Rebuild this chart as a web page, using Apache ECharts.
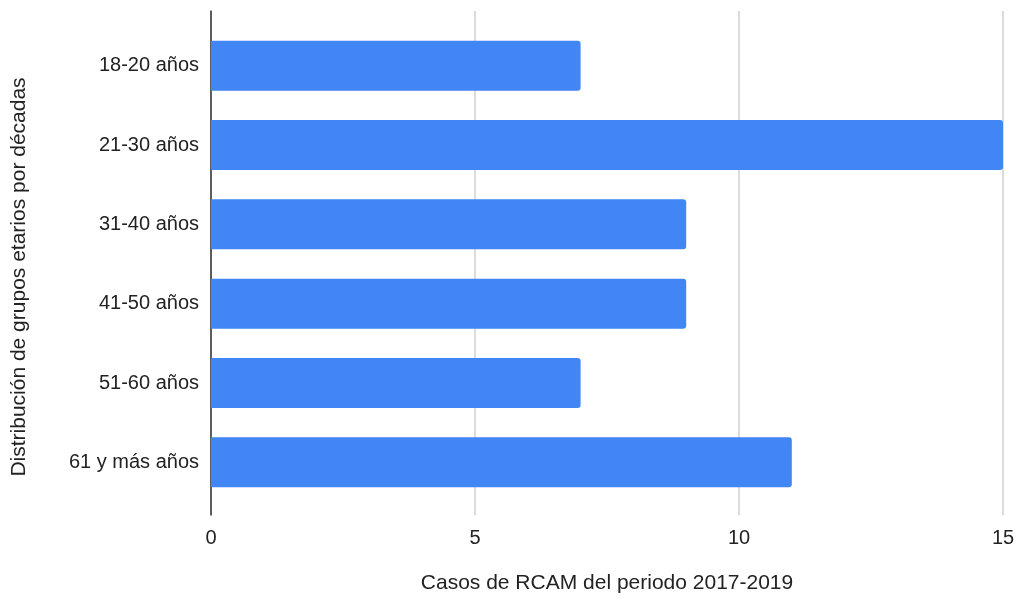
<!DOCTYPE html>
<html>
<head>
<meta charset="utf-8">
<script src="https://cdn.jsdelivr.net/npm/echarts@6/dist/echarts.min.js"></script>
<style>
  html, body { margin: 0; padding: 0; background: #fff; }
  #echart { width: 1022px; height: 601px; }
</style>
</head>
<body>
<div id="echart"></div>
<script>
var dom = document.getElementById("echart");
var myChart = echarts.init(dom);

// data
let categories = ['18-20 años', '21-30 años', '31-40 años', '41-50 años', '51-60 años', '61 y más años'];
let casos = [7, 15, 9, 9, 7, 11];
let xTicks = [0, 5, 10, 15];

let fontFam = 'Arial, "Liberation Sans", Helvetica, sans-serif';

var option = {
    animation: false,
    textStyle: { fontFamily: fontFam },
    grid: [
        // axis frame + gridlines
        { left: 211, right: 19, top: 11, bottom: 86 },
        // bars
        { left: 211, right: 19, top: 26, bottom: 99 }
    ],
    xAxis: [
        {
            gridIndex: 0,
            type: 'value',
            min: xTicks[0],
            max: xTicks[xTicks.length - 1],
            interval: 5,
            axisLine: { show: false },
            axisTick: { show: false },
            splitLine: { lineStyle: { color: '#d0d0d0', width: 1.5 } },
            axisLabel: { color: '#222', fontSize: 20, margin: 13 },
            name: 'Casos de RCAM del periodo 2017-2019',
            nameLocation: 'middle',
            nameGap: 58,
            nameTextStyle: { color: '#222', fontSize: 21 }
        },
        {
            gridIndex: 1,
            type: 'value',
            min: 0,
            max: 15,
            show: false
        }
    ],
    yAxis: [
        {
            gridIndex: 0,
            type: 'category',
            data: categories,
            inverse: true,
            axisLine: { show: true, lineStyle: { color: '#333', width: 1.5 } },
            axisTick: { show: false },
            axisLabel: { show: false }
        },
        {
            gridIndex: 1,
            type: 'category',
            data: categories,
            inverse: true,
            axisLine: { show: false },
            axisTick: { show: false },
            axisLabel: { color: '#222', fontSize: 20, margin: 12 }
        }
    ],
    graphic: [
        {
            type: 'text',
            x: 19,
            y: 277,
            rotation: Math.PI / 2,
            style: {
                text: 'Distribución de grupos etarios por décadas',
                fill: '#222',
                font: '21px ' + fontFam,
                align: 'center',
                verticalAlign: 'middle'
            }
        }
    ],
    series: [
        {
            type: 'bar',
            xAxisIndex: 1,
            yAxisIndex: 1,
            barWidth: 50,
            itemStyle: { color: '#4285f4', borderRadius: [0, 3, 3, 0] },
            data: casos
        }
    ]
};

myChart.setOption(option);
</script>
</body>
</html>
